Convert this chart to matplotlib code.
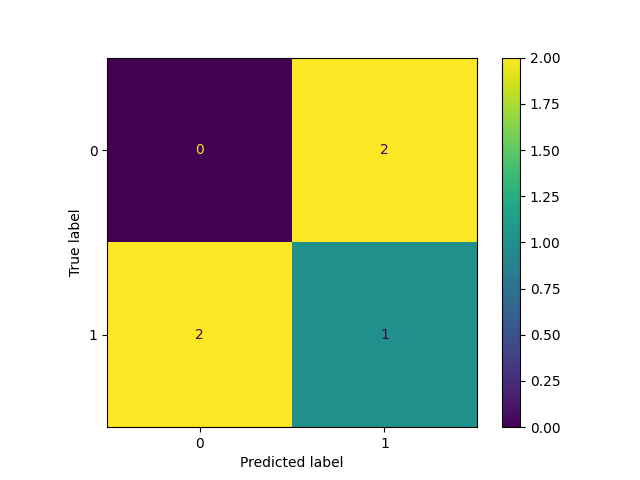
import matplotlib
matplotlib.use("Agg")
import matplotlib.pyplot as plt
import numpy as np

# confusion matrix values
labels = ["0", "1"]
row_0 = [0, 2]
row_1 = [2, 1]

cm = np.array([row_0, row_1])
n = len(labels)

fig, ax = plt.subplots(figsize=(6.4, 4.8), dpi=100)
cmap = plt.get_cmap("viridis")
im = ax.imshow(cm, interpolation="nearest", cmap=cmap)

# text colour flips at the midpoint, like sklearn's display
cmap_min, cmap_max = im.cmap(0), im.cmap(1.0)
thresh = (cm.max() + cm.min()) / 2.0
for i in range(n):
    for j in range(n):
        color = cmap_max if cm[i, j] < thresh else cmap_min
        ax.text(j, i, format(cm[i, j], "d"), ha="center", va="center", color=color)

fig.colorbar(im, ax=ax)
ax.set(xticks=np.arange(n), yticks=np.arange(n),
       xticklabels=labels, yticklabels=labels,
       ylabel="True label", xlabel="Predicted label")
ax.set_ylim((n - 0.5, -0.5))

fig.savefig("out.png", dpi=100)
